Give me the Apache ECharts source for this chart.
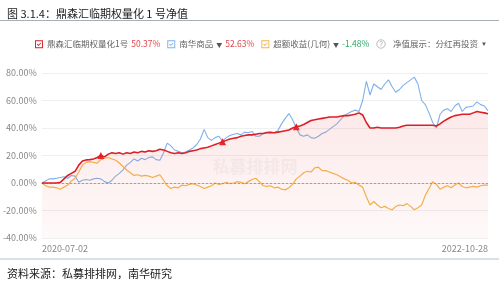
<!DOCTYPE html>
<html><head><meta charset="utf-8">
<script src="https://cdn.jsdelivr.net/npm/echarts@6/dist/echarts.min.js"></script>
<style>html,body{margin:0;padding:0;background:#fff}#c{width:499px;height:281px}</style>
</head><body><div id="c"></div>
<script>
var seriesNames = ['鼎森汇临期权量化1号', '南华商品', '超额收益(几何)'];
var startDate = '2020-07-02';
var endDate = '2022-10-28';
var pointCount = 122;
var yTicks = [-40, -20, 0, 20, 40, 60, 80];
var product = [0,0,0,0,0,0.5,3,5.5,7,8.5,13,16,16.8,17,17.5,18.5,20,19,21,22,21.5,22,21,22,21.5,22.5,22,23,22.5,23.5,23,23.5,24.5,24,23,22,21.5,22,21.5,22,23,23.5,24,25,25.5,26,27,28,29,30,31,32,32.5,33,34,34.5,35,35,35.5,36,36,36.5,36.5,36.5,37,37.5,38,38.5,40,41,41.5,42.5,44,45.5,46,46.5,47,47.5,48,48,48,48.5,49,49,49.5,50,51,49.5,44,40,40,40.5,40,40,40,40,40,40.5,41.5,42,42,42,42,42,42,42,42,41.5,43,45,46.5,48,49,49.5,50,50,50,51,52,51.5,51,50.37];
var nanhua = [0,1.5,3,3,3.5,4,4.5,3.5,5.5,5,0.5,2,2.5,2,3,3.5,3,1,0,2,5,7,9.5,13,15,17.5,16,18,17,18.5,19,17,16.5,22,29,27,24,23,22,22.5,24,25.5,28,32,39,33,31,33,34,30.5,33,34.5,35.5,36,35,37,36.5,37.5,34,34,36,37,37.5,36.5,38,43,47,50.5,46,40,35,34,35,33,32.5,34,36,37,39,41,43,46,49,50.5,52,53,52,60,74,64,72,70,68,72,75,70,66,68,71,73,75,77,72,60,57,51,44,40,50,53,54,52,56,58,52,55,55.5,56,59,57,56,52.63];
var excess = [0,-2,-3,-3,-3.5,-4.5,-3,-1.5,1.5,3.5,8,13,15,15.5,15,14.5,17,18,18.5,17.5,16.5,14.5,12,9.5,7.5,5.5,6,5,5.5,5,4,5,6,2,-2,-4,-3,-3.5,-1.5,-2,-1,-0.5,-1.5,-2.5,-4,-3,-2,0,-1,-0.5,0.5,-0.5,0,1,0.5,-0.5,1,2.5,3.5,1,-2,-2.5,-2,-3.5,-3,-4.5,-5,-3.5,-1,3,5,7.5,8.5,8,11,11.5,9,9,8,7,6,4.5,3,2,0,0.5,-1.5,-3,-10,-16,-13.5,-16,-18,-17,-18.5,-19.5,-17,-16,-16.5,-15,-17,-19.5,-18,-16,-9,-4,1,-1,-4.5,-3,-2,-3.5,-1.5,0,-2.5,-3.5,-3,-2.5,-3,-2,-1.5,-1.48];
var eventIdx = [16, 49, 69];

// weekly date categories
var dates = [];
(function(){
  var d = new Date(startDate + 'T00:00:00Z');
  for (var i = 0; i < pointCount - 1; i++) {
    var t = new Date(d.getTime() + i * 7 * 86400000);
    dates.push(t.toISOString().slice(0,10));
  }
  dates.push(endDate);
})();

function last(a){ return a[a.length-1]; }
function pct(v){ return v.toFixed(2) + '%'; }
var lastVals = {};
lastVals[seriesNames[0]] = {v: last(product), s: 'r', arrow: false};
lastVals[seriesNames[1]] = {v: last(nanhua), s: 'r', arrow: true};
lastVals[seriesNames[2]] = {v: last(excess), s: 'g', arrow: true};

var RED = '#dc1f26', BLUE = '#7eb0ea', ORANGE = '#f5b445';
var boxIcon = 'path://M0,0L10,0L10,10L0,10Z M1.2,1.2L1.2,8.8L8.8,8.8L8.8,1.2Z M2.3,5.2L3.2,4.3L4.4,5.5L6.9,3L7.8,3.9L4.4,7.3Z';

var chart = echarts.init(document.getElementById('c'), null, {renderer: 'canvas'});
chart.setOption({
  backgroundColor: '#fff',
  animation: false,
  textStyle: {fontFamily: '"Noto Sans CJK SC", "Noto Sans", sans-serif'},
  title: [{
    text: '图 3.1.4：鼎森汇临期权量化 1 号净值',
    left: 2, top: 3,
    textStyle: {fontSize: 11, fontWeight: 'normal', color: '#1a1a1a', fontFamily: '"Noto Sans CJK SC", sans-serif'}
  }, {
    text: '资料来源：私募排排网，南华研究',
    left: 2, top: 263,
    textStyle: {fontSize: 11, fontWeight: 'normal', color: '#1a1a1a', fontFamily: '"Noto Sans CJK SC", sans-serif'}
  }],
  legend: {
    left: 35, top: 40, padding: 0,
    itemWidth: 8, itemHeight: 8, itemGap: 7,
    icon: boxIcon,
    data: seriesNames,
    textStyle: {
      fontSize: 8.5, color: '#666', padding: [0, 0, 0, -1],
      rich: {
        n: {fontSize: 8.5, color: '#666'},
        a: {fontSize: 6, color: '#555', padding: [0,0,0,3]},
        r: {fontSize: 8.5, color: '#e0474c', padding: [0,0,0,3]},
        g: {fontSize: 8.5, color: '#2fa86a', padding: [0,0,0,3]}
      }
    },
    formatter: function(name){
      var o = lastVals[name];
      return '{n|' + name + '}' + (o.arrow ? '{a|▼}' : '') + '{' + o.s + '|' + pct(o.v) + '}';
    }
  },
  graphic: [
    {type: 'line', shape: {x1: 0, y1: 20.5, x2: 499, y2: 20.5}, style: {stroke: '#a7b0b8', lineWidth: 1}},
    {type: 'line', shape: {x1: 0, y1: 259, x2: 499, y2: 259}, style: {stroke: '#c9d8df', lineWidth: 1.5}},
    {type: 'circle', shape: {cx: 381, cy: 44, r: 4.2}, style: {fill: 'none', stroke: '#aaa', lineWidth: 0.8}},
    {type: 'text', x: 381, y: 44, style: {text: '?', fontSize: 6.5, fill: '#999', align: 'center', verticalAlign: 'middle'}},
    {type: 'text', x: 393, y: 44, style: {text: '净值展示：分红再投资', fontSize: 8.5, fill: '#666', verticalAlign: 'middle', fontFamily: '"Noto Sans CJK SC", sans-serif'}},
    {type: 'text', x: 481, y: 44, style: {text: '▼', fontSize: 6, fill: '#555', verticalAlign: 'middle'}},
    {type: 'text', x: 255, y: 167, z: 0, style: {text: '私募排排网', fontSize: 17, fill: 'rgba(120,120,120,0.07)', align: 'center', verticalAlign: 'middle', fontWeight: 'bold', fontFamily: '"Noto Sans CJK SC", sans-serif'}}
  ],
  grid: {left: 38, right: 11, top: 73, bottom: 43},
  xAxis: {
    type: 'category', data: dates, boundaryGap: false,
    axisLine: {lineStyle: {color: '#e6e6e6'}},
    axisTick: {show: false},
    axisLabel: {
      fontSize: 9, color: '#888', margin: 6,
      interval: function(i){ return i === 0 || i === dates.length - 1; },
      alignMinLabel: 'left', alignMaxLabel: 'right',
      showMinLabel: true, showMaxLabel: true
    },
    splitLine: {show: false}
  },
  yAxis: {
    type: 'value', min: yTicks[0], max: yTicks[yTicks.length-1], interval: 20,
    axisLine: {show: false}, axisTick: {show: false},
    axisLabel: {fontSize: 9, color: '#888', margin: 5, formatter: function(v){ return v.toFixed(2) + '%'; }},
    splitLine: {lineStyle: {color: '#efefef'}}
  },
  series: [
    {
      name: seriesNames[1], type: 'line', data: nanhua, symbol: 'none', z: 3,
      lineStyle: {color: BLUE, width: 1.1}, itemStyle: {color: BLUE}
    },
    {
      name: seriesNames[2], type: 'line', data: excess, symbol: 'none', z: 4,
      lineStyle: {color: ORANGE, width: 1.2}, itemStyle: {color: ORANGE},
      markLine: {
        silent: true, symbol: 'none', label: {show: false},
        lineStyle: {color: '#8a8a8a', type: [2, 2], width: 0.8},
        data: [{yAxis: 0}]
      }
    },
    {
      name: seriesNames[0], type: 'line', data: product, symbol: 'none', z: 5,
      lineStyle: {color: RED, width: 1.6}, itemStyle: {color: RED},
      areaStyle: {
        origin: 'start',
        color: new echarts.graphic.LinearGradient(0, 0, 0, 1, [
          {offset: 0, color: 'rgba(236,110,110,0.22)'},
          {offset: 1, color: 'rgba(236,110,110,0.06)'}
        ])
      },
      markPoint: {
        symbol: 'triangle', symbolSize: 7, label: {show: false},
        itemStyle: {color: '#ee1c25'},
        data: eventIdx.map(function(i){ return {coord: [dates[i], product[i]]}; })
      }
    }
  ]
});
</script>
</body></html>
